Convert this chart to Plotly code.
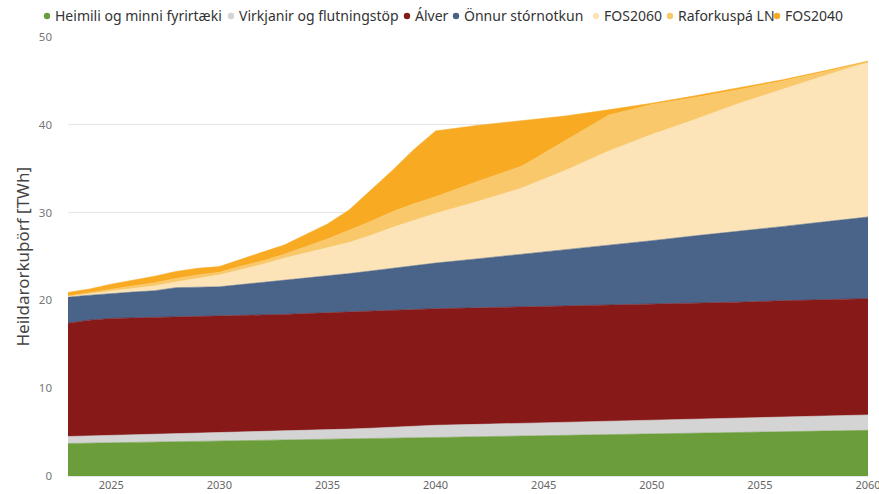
import plotly.graph_objects as go

years = [2023, 2024, 2025, 2026, 2027, 2028, 2029, 2030, 2031, 2032, 2033, 2034, 2035,
         2036, 2037, 2038, 2039, 2040, 2042, 2044, 2046, 2048, 2050, 2052, 2054, 2056, 2058, 2060]

heimili = [3.70, 3.74, 3.78, 3.82, 3.86, 3.90, 3.94, 3.98, 4.02, 4.06, 4.10, 4.14, 4.18,
           4.22, 4.26, 4.30, 4.34, 4.38, 4.46, 4.54, 4.62, 4.70, 4.78, 4.86, 4.94, 5.02, 5.10, 5.20]
virkjanir = [0.80, 0.82, 0.85, 0.88, 0.90, 0.93, 0.96, 1.00, 1.00, 1.02, 1.03, 1.05, 1.08,
             1.12, 1.18, 1.25, 1.32, 1.40, 1.42, 1.45, 1.48, 1.52, 1.56, 1.60, 1.63, 1.67, 1.70, 1.75]
alver = [12.90, 13.19, 13.32, 13.30, 13.29, 13.27, 13.25, 13.22, 13.23, 13.22, 13.27, 13.31, 13.34,
         13.36, 13.36, 13.35, 13.34, 13.27, 13.27, 13.26, 13.30, 13.28, 13.26, 13.24, 13.23, 13.26, 13.25, 13.25]
onnur = [3.00, 2.85, 2.85, 2.95, 3.05, 3.35, 3.35, 3.35, 3.55, 3.75, 3.90, 4.00, 4.15,
         4.35, 4.55, 4.75, 4.95, 5.20, 5.60, 6.00, 6.35, 6.80, 7.20, 7.65, 8.05, 8.45, 8.90, 9.30]
fos2060 = [0.05, 0.15, 0.25, 0.40, 0.55, 0.65, 1.00, 1.35, 1.70, 2.05, 2.50, 2.90, 3.25,
           3.55, 4.05, 4.65, 5.15, 5.65, 6.55, 7.55, 9.05, 10.70, 12.10, 13.25, 14.55, 15.60, 16.65, 17.60]
raforkuspa = [0.05, 0.15, 0.25, 0.30, 0.35, 0.40, 0.40, 0.30, 0.40, 0.40, 0.45, 0.70, 1.00,
              1.40, 1.60, 1.80, 1.90, 1.90, 2.30, 2.50, 3.40, 4.10, 3.40, 2.50, 1.60, 0.95, 0.45, 0.05]
fos2040 = [0.40, 0.40, 0.55, 0.65, 0.75, 0.80, 0.75, 0.65, 0.80, 1.00, 1.05, 1.40, 1.70,
           2.30, 3.50, 4.70, 6.20, 7.50, 6.35, 5.20, 2.80, 0.60, 0.15, 0.20, 0.20, 0.15, 0.10, 0.10]

series_names = ["Heimili og minni fyrirtæki", "Virkjanir og flutningstöp", "Álver",
                "Önnur stórnotkun", "FOS2060", "Raforkuspá LN", "FOS2040"]
series_values = [heimili, virkjanir, alver, onnur, fos2060, raforkuspa, fos2040]
colors = ["#6B9E3B", "#D4D4D4", "#871A19", "#4A6388", "#FCE4B8", "#F9C86A", "#F8AA22"]

y_ticks = [0, 10, 20, 30, 40, 50]
x_ticks = [2025, 2030, 2035, 2040, 2045, 2050, 2055, 2060]

# layout geometry (pixels)
W, H = 879, 494
ML, MR, MT, MB = 68, 11, 37, 18
PW, PH = W - ML - MR, H - MT - MB
legend_dot_px = [47, 231, 407, 456, 596, 670, 777]   # screen x of legend dots
legend_y_px = 16                                      # screen y of legend row
title_x_px = 22


def px_to_paper_x(px):
    return (px - ML) / PW


def px_to_paper_y(py):
    return 1 + (MT - py) / PH


fig = go.Figure()
for name, vals, col in zip(series_names, series_values, colors):
    fig.add_trace(go.Scatter(
        x=years, y=vals, name=name, mode="lines", stackgroup="one",
        line=dict(width=0.6, color=col), fillcolor=col, showlegend=False,
        hoverinfo="x+y+name"))

annotations = []
shapes = []
ly = px_to_paper_y(legend_y_px)
for name, col, dx in zip(series_names, colors, legend_dot_px):
    shapes.append(dict(type="circle", xref="paper", yref="paper",
                       xsizemode="pixel", ysizemode="pixel",
                       xanchor=px_to_paper_x(dx), yanchor=ly,
                       x0=-3.2, x1=3.2, y0=-3.2, y1=3.2,
                       fillcolor=col, line=dict(width=0)))
    annotations.append(dict(text=name, xref="paper", yref="paper",
                            x=px_to_paper_x(dx + 6), y=ly, xanchor="left", yanchor="middle",
                            showarrow=False, font=dict(size=14, color="#333")))

annotations.append(dict(text="Heildarorkuþörf [TWh]", xref="paper", yref="paper",
                        x=px_to_paper_x(title_x_px), y=0.5, xanchor="center", yanchor="middle",
                        textangle=-90, showarrow=False,
                        font=dict(size=17, color="#444")))

fig.update_layout(
    width=W, height=H,
    margin=dict(l=ML, r=MR, t=MT, b=MB, autoexpand=False),
    paper_bgcolor="white", plot_bgcolor="white",
    font=dict(family="Noto Sans, sans-serif", color="#555"),
    showlegend=False,
    annotations=annotations,
    shapes=shapes,
    xaxis=dict(range=[2023, 2060], tickvals=x_ticks, ticktext=[str(t) for t in x_ticks],
               showgrid=False, zeroline=False, showline=False,
               tickfont=dict(size=11, color="#666"), ticks="", ticklabelstandoff=1,
               ticklabeloverflow="allow", automargin=False),
    yaxis=dict(range=[0, 50], tickvals=y_ticks, showgrid=True, gridcolor="#E6E6E6",
               gridwidth=1, zeroline=True, zerolinecolor="#E6E6E6",
               tickfont=dict(size=11.5, color="#777"), ticks="", ticklabelstandoff=15,
               automargin=False),
)

fig.write_html("out.html",
               config={"displayModeBar": False},
               post_script="document.body.style.margin='0';document.body.style.overflow='hidden';")
